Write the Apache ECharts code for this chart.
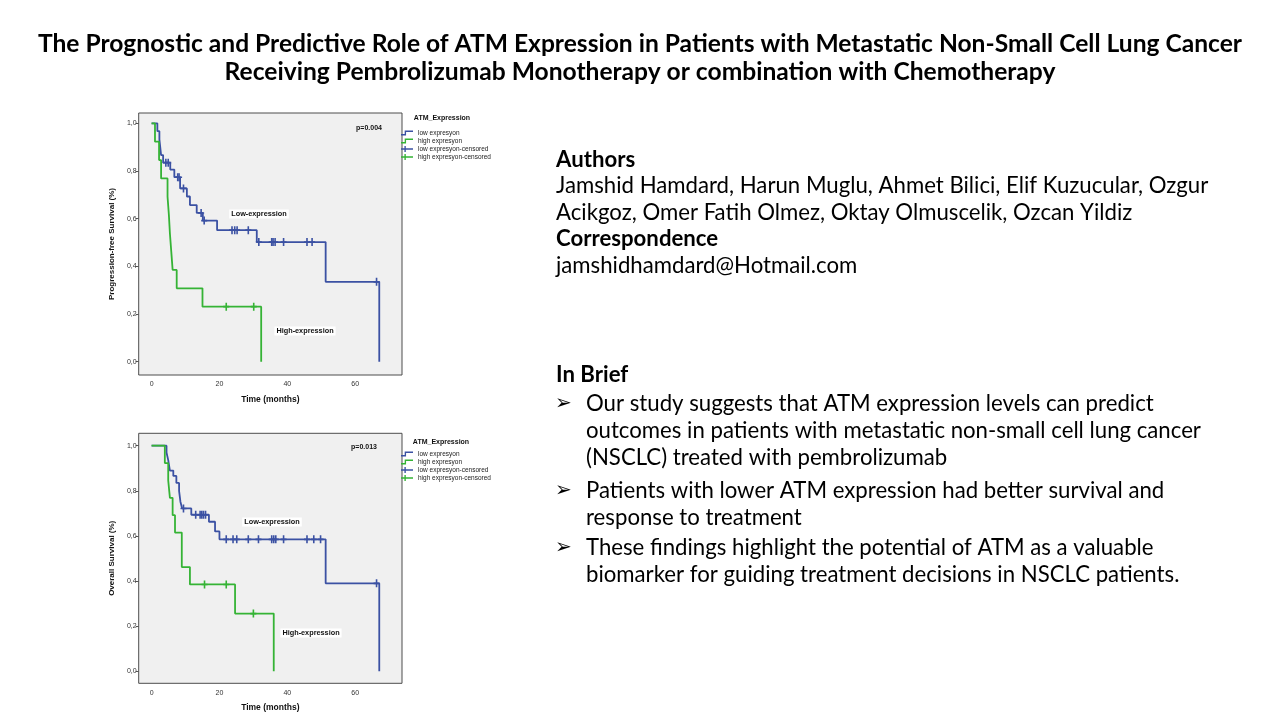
<!DOCTYPE html>
<html>
<head>
<meta charset="utf-8">
<script src="https://cdn.jsdelivr.net/npm/echarts@6/dist/echarts.min.js"></script>
<style>
html,body{margin:0;padding:0;background:#fff;}
#chart{width:1280px;height:720px;}
</style>
</head>
<body>
<div id="chart"></div>
<script>
// ---------- DATA ----------
// Progression-free survival, low ATM expression
var pfsLowTimes = [0, 1.7, 2.3, 2.8, 3.4, 5.5, 6.7, 8.4, 10.4, 11.3, 13.3, 15.1, 19.3, 31.0, 51.3, 67.1];
var pfsLowSurv  = [1.0, 0.967, 0.933, 0.867, 0.835, 0.806, 0.774, 0.727, 0.693, 0.657, 0.624, 0.592, 0.552, 0.502, 0.335, 0];
var pfsLowCensor = [4.2, 4.9, 7.7, 8.1, 9.4, 14.6, 15.5, 23.7, 24.5, 25.2, 28.5, 31.6, 35.4, 35.8, 36.4, 38.9, 45.8, 47.3, 66.3];
// Progression-free survival, high ATM expression
var pfsHighTimes = [0, 1.0, 2.2, 2.8, 4.7, 5.1, 5.4, 5.8, 6.2, 7.4, 15.0, 32.3];
var pfsHighSurv  = [1.0, 0.923, 0.846, 0.769, 0.692, 0.615, 0.538, 0.462, 0.385, 0.308, 0.231, 0];
var pfsHighCensor = [22.0, 30.1];
// Overall survival, low ATM expression
var osLowTimes = [0, 4.4, 4.9, 5.4, 6.4, 7.3, 8.1, 8.5, 9.0, 11.7, 16.9, 18.7, 20.0, 51.3, 67.1];
var osLowSurv  = [1.0, 0.970, 0.936, 0.890, 0.866, 0.835, 0.800, 0.752, 0.722, 0.694, 0.663, 0.620, 0.585, 0.390, 0];
var osLowCensor = [9.4, 13.0, 14.3, 14.8, 15.3, 15.9, 22.0, 24.0, 25.1, 28.5, 31.5, 35.4, 36.0, 36.6, 38.9, 45.8, 47.8, 49.8, 66.3];
// Overall survival, high ATM expression
var osHighTimes = [0, 3.9, 4.9, 5.4, 6.2, 6.9, 8.9, 11.3, 24.6, 36.0];
var osHighSurv  = [1.0, 0.923, 0.846, 0.769, 0.692, 0.615, 0.462, 0.385, 0.256, 0];
var osHighCensor = [15.6, 22.0, 30.0];

var xTickValues = [0, 20, 40, 60];
var yTickValues = [0, 0.2, 0.4, 0.6, 0.8, 1.0];
var legendNames = ['low expresyon', 'high expresyon', 'low expresyon-censored', 'high expresyon-censored'];

// ---------- helpers ----------
function zip(a, b) { return a.map(function (v, i) { return [v, b[i]]; }); }
function survAt(times, surv, t) {
  var s = surv[0];
  for (var i = 0; i < times.length; i++) { if (times[i] <= t) s = surv[i]; }
  return s;
}
function censorPts(cens, times, surv) {
  return cens.map(function (t) { return [t, survAt(times, surv, t)]; });
}

var BLUE = '#3b51a3';
var GREEN = '#35b335';
var AXF = 'Liberation Sans, Arial, sans-serif';
var TXF = 'Lato, Carlito, Calibri, sans-serif';
var plusPath = 'path://M2.2,0h1.6v3.2h2.2v1.6h-2.2v3.2h-1.6v-3.2h-2.2v-1.6h2.2z';
var iconStep = 'path://M0,4.6H4.3V0.6H14V2.2H5.9V6.2H0Z';
var iconCens = 'path://M0,2.7H4V0H5.6V2.7H14V4.3H5.6V7H4V4.3H0Z';

function xAxisCfg(gi) {
  return {
    gridIndex: gi, type: 'value', min: -3.8, max: 73.8,
    axisLine: { show: false, onZero: false }, splitLine: { show: false },
    axisTick: { show: false },
    axisLabel: { customValues: xTickValues, fontSize: 7, color: '#333', fontFamily: AXF, margin: 6 },
    name: 'Time (months)', nameLocation: 'middle', nameGap: 20,
    nameTextStyle: { fontSize: 8.5, fontWeight: 'bold', color: '#111', fontFamily: AXF }
  };
}
function yAxisCfg(gi, min, max, name) {
  return {
    gridIndex: gi, type: 'value', min: min, max: max,
    axisLine: { show: false, onZero: false }, splitLine: { show: false },
    axisTick: { show: true, customValues: yTickValues, length: 3, lineStyle: { color: '#555' } },
    axisLabel: {
      customValues: yTickValues, fontSize: 7, color: '#333', fontFamily: AXF, margin: 2,
      formatter: function (v) { return v.toFixed(1).replace('.', ','); }
    },
    name: name, nameLocation: 'middle', nameGap: 23,
    nameTextStyle: { fontSize: 8, fontWeight: 'bold', color: '#111', fontFamily: AXF }
  };
}
function kmLine(name, gi, times, surv, color) {
  return {
    name: name, type: 'line', step: 'end', xAxisIndex: gi, yAxisIndex: gi,
    data: zip(times, surv), symbol: 'none', showSymbol: false,
    lineStyle: { color: color, width: 1.8 }, itemStyle: { color: color },
    animation: false, z: 3
  };
}
function kmCens(name, gi, cens, times, surv, color) {
  return {
    name: name, type: 'scatter', xAxisIndex: gi, yAxisIndex: gi,
    data: censorPts(cens, times, surv), symbol: plusPath, symbolSize: [6, 8],
    itemStyle: { color: color, opacity: 1 }, animation: false, z: 4
  };
}
function legendCfg(top) {
  return {
    orient: 'vertical', left: 401, top: top, padding: 0, itemWidth: 12, itemHeight: 7, itemGap: 1,
    selectedMode: false,
    textStyle: { fontSize: 6.5, color: '#222', fontFamily: AXF, lineHeight: 7 },
    itemStyle: { borderWidth: 0 },
    data: [
      { name: legendNames[0], icon: iconStep },
      { name: legendNames[1], icon: iconStep },
      { name: legendNames[2], icon: iconCens },
      { name: legendNames[3], icon: iconCens }
    ]
  };
}
function txt(text, x, y, font, opts) {
  opts = opts || {};
  return {
    type: 'text', silent: true, z: 100,
    style: Object.assign({
      text: text, x: x, y: y, font: font, fill: '#000',
      textAlign: opts.align || 'left', textVerticalAlign: 'middle'
    }, opts.style || {})
  };
}
function boxLabel(text, x, y) {
  return txt(text, x, y, 'bold 7.3px ' + AXF, { align: 'center', style: { backgroundColor: '#fff', padding: [1, 2], fill: '#111' } });
}

var chart = echarts.init(document.getElementById('chart'), null, { renderer: 'canvas' });

var TF = 'bold 24.6px ' + TXF;
var BF = '22.2px ' + TXF;
var BBF = 'bold 22.2px ' + TXF;
var AF = '20px DejaVu Sans, sans-serif';
var graphics = [
  txt('The Prognostic and Predictive Role of ATM Expression in Patients with Metastatic Non-Small Cell Lung Cancer', 640, 44, TF, { align: 'center' }),
  txt('Receiving Pembrolizumab Monotherapy or combination with Chemotherapy', 640, 72, TF, { align: 'center' }),
  // chart annotations
  txt('p=0.004', 369, 128, 'bold 7px ' + AXF, { align: 'center', style: { fill: '#111' } }),
  boxLabel('Low-expression', 259, 214),
  boxLabel('High-expression', 305, 331),
  txt('p=0.013', 364, 447, 'bold 7px ' + AXF, { align: 'center', style: { fill: '#111' } }),
  boxLabel('Low-expression', 272, 522),
  boxLabel('High-expression', 311, 633),
  txt('ATM_Expression', 442, 118.5, 'bold 7px ' + AXF, { align: 'center', style: { fill: '#111' } }),
  txt('ATM_Expression', 441, 442.5, 'bold 7px ' + AXF, { align: 'center', style: { fill: '#111' } }),
  // right text block
  txt('Authors', 556, 160, BBF),
  txt('Jamshid Hamdard, Harun Muglu, Ahmet Bilici, Elif Kuzucular, Ozgur', 556, 186, BF),
  txt('Acikgoz, Omer Fatih Olmez, Oktay Olmuscelik, Ozcan Yildiz', 556, 213, BF),
  txt('Correspondence', 556, 239, BBF),
  txt('jamshidhamdard@Hotmail.com', 556, 266, BF),
  txt('In Brief', 556, 375, BBF),
  txt('\u27A2', 555, 404, AF),
  txt('Our study suggests that ATM expression levels can predict', 586, 404, BF),
  txt('outcomes in patients with metastatic non-small cell lung cancer', 586, 431, BF),
  txt('(NSCLC) treated with pembrolizumab', 586, 458, BF),
  txt('\u27A2', 555, 491, AF),
  txt('Patients with lower ATM expression had better survival and', 586, 491, BF),
  txt('response to treatment', 586, 518, BF),
  txt('\u27A2', 555, 548, AF),
  txt('These findings highlight the potential of ATM as a valuable', 586, 548, BF),
  txt('biomarker for guiding treatment decisions in NSCLC patients.', 586, 575, BF)
];

var option = {
  backgroundColor: '#ffffff',
  animation: false,
  grid: [
    { left: 138.7, top: 113, width: 263.3, height: 262, show: true, backgroundColor: '#f0f0f0', borderColor: '#4d4d4d', borderWidth: 1 },
    { left: 138.7, top: 433.3, width: 263.3, height: 250, show: true, backgroundColor: '#f0f0f0', borderColor: '#4d4d4d', borderWidth: 1 }
  ],
  xAxis: [xAxisCfg(0), xAxisCfg(1)],
  yAxis: [
    yAxisCfg(0, -0.0557, 1.0433, 'Progression-free Survival (%)'),
    yAxisCfg(1, -0.053, 1.055, 'Overall Survival (%)')
  ],
  legend: [legendCfg(129.5), legendCfg(450.5)],
  series: [
    kmLine(legendNames[0], 0, pfsLowTimes, pfsLowSurv, BLUE),
    kmLine(legendNames[1], 0, pfsHighTimes, pfsHighSurv, GREEN),
    kmCens(legendNames[2], 0, pfsLowCensor, pfsLowTimes, pfsLowSurv, BLUE),
    kmCens(legendNames[3], 0, pfsHighCensor, pfsHighTimes, pfsHighSurv, GREEN),
    kmLine(legendNames[0], 1, osLowTimes, osLowSurv, BLUE),
    kmLine(legendNames[1], 1, osHighTimes, osHighSurv, GREEN),
    kmCens(legendNames[2], 1, osLowCensor, osLowTimes, osLowSurv, BLUE),
    kmCens(legendNames[3], 1, osHighCensor, osHighTimes, osHighSurv, GREEN)
  ],
  graphic: graphics
};
chart.setOption(option);
</script>
</body>
</html>
